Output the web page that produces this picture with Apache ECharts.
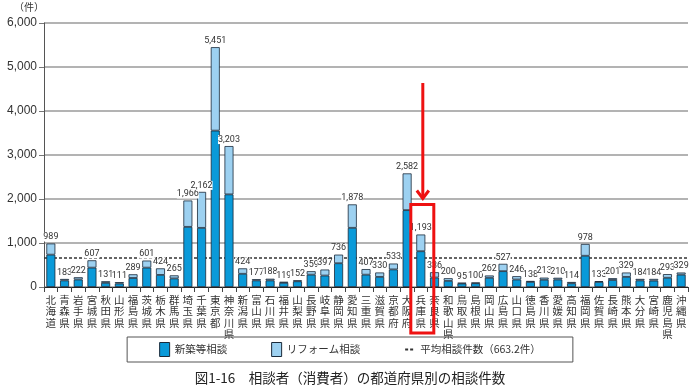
<!DOCTYPE html>
<html><head><meta charset="utf-8">
<script src="https://cdn.jsdelivr.net/npm/echarts@6/dist/echarts.min.js"></script>
<style>html,body{margin:0;padding:0;background:#fff}#c{width:700px;height:390px}</style>
</head><body><div id="c"></div>
<script>
const categories = ['北海道','青森県','岩手県','宮城県','秋田県','山形県','福島県','茨城県','栃木県','群馬県','埼玉県','千葉県','東京都','神奈川県','新潟県','富山県','石川県','福井県','山梨県','長野県','岐阜県','静岡県','愛知県','三重県','滋賀県','京都府','大阪府','兵庫県','奈良県','和歌山県','鳥取県','島根県','岡山県','広島県','山口県','徳島県','香川県','愛媛県','高知県','福岡県','佐賀県','長崎県','熊本県','大分県','宮崎県','鹿児島県','沖縄県'];
const totals = [989,183,222,607,131,111,289,601,424,265,1966,2162,5451,3203,424,177,188,119,152,359,397,736,1878,407,330,533,2582,1193,336,200,95,100,262,527,246,138,213,210,114,978,133,201,329,184,184,293,329];
const shinchiku = [735,150,170,440,95,80,205,440,275,195,1367,1344,3554,2105,300,150,150,95,130,280,260,540,1345,280,230,400,1747,813,215,140,80,85,210,360,170,115,165,170,85,710,115,160,230,150,145,210,280];
const reform = totals.map((t, i) => t - shinchiku[i]);
const average = 663.2;
const yTicks = [0, 1000, 2000, 3000, 4000, 5000, 6000];
const highlight = '兵庫県';

const chart = echarts.init(document.getElementById('c'));
const fmt = v => v.toLocaleString('en-US');
chart.setOption({
  animation: false,
  textStyle: { fontFamily: '"Noto Sans CJK JP", sans-serif' },
  title: {
    text: '図1-16　相談者（消費者）の都道府県別の相談件数',
    left: 'center', top: 366,
    textStyle: { fontSize: 13.5, fontWeight: 'normal', color: '#222', fontFamily: '"Noto Sans CJK JP", sans-serif' }
  },
  legend: {
    left: 'center', top: 337,
    padding: [5, 32, 5, 32],
    borderColor: '#555', borderWidth: 1,
    itemWidth: 10, itemHeight: 14, itemGap: 44,
    textStyle: { fontSize: 10.5, color: '#333' },
    data: [
      { name: '新築等相談', icon: 'rect', itemStyle: { borderColor: '#1a2a3a', borderWidth: 1 } },
      { name: 'リフォーム相談', icon: 'rect', itemStyle: { borderColor: '#1a2a3a', borderWidth: 1 } },
      { name: '平均相談件数（663.2件）', itemStyle: { opacity: 0 } }
    ]
  },
  grid: { left: 44, right: 12, top: 23, bottom: 103 },
  xAxis: {
    type: 'category', data: categories,
    axisLine: { lineStyle: { color: '#222', width: 1 } },
    axisTick: { show: true, length: 5, lineStyle: { color: '#444' } },
    axisLabel: {
      interval: 0, fontSize: 10.5, color: '#333', lineHeight: 11.5, margin: 7,
      formatter: v => v.split('').join('\n'),
      verticalAlign: 'top'
    }
  },
  yAxis: {
    type: 'value', min: 0, max: 6000, interval: 1000,
    name: '（件）', nameLocation: 'end', nameGap: 11,
    nameTextStyle: { fontSize: 10, color: '#333', align: 'right', padding: [0, 0, 0, 0] },
    axisLine: { show: true, lineStyle: { color: '#555' } },
    axisTick: { show: true, length: 5, lineStyle: { color: '#777' } },
    axisLabel: { fontSize: 12, color: '#333', margin: 7, formatter: v => fmt(v), fontFamily: '"Liberation Sans", Arial, sans-serif' },
    splitLine: { lineStyle: { color: '#9a9a9a', width: 1.5 } }
  },
  series: [
    {
      name: '平均相談件数（663.2件）', type: 'line', data: [], symbol: 'none', z: 1,
      lineStyle: { color: '#333', type: [3, 2], width: 1.5 },
      itemStyle: { color: '#333' },
      markLine: {
        silent: true, symbol: 'none', label: { show: false }, z: 1,
        lineStyle: { color: '#333', type: [3, 2], width: 1.5 },
        data: [{ yAxis: average }]
      }
    },
    {
      name: '新築等相談', type: 'bar', stack: 'a', data: shinchiku, barWidth: 9, z: 3,
      itemStyle: { color: '#0a9ad9', borderColor: '#1a2a3a', borderWidth: 0.8 }
    },
    {
      name: 'リフォーム相談', type: 'bar', stack: 'a', data: reform, barWidth: 9, z: 3,
      itemStyle: { color: '#9dd1f1', borderColor: '#1a2a3a', borderWidth: 0.8 },
      label: {
        show: true, position: 'top', distance: 2,
        fontSize: 9, color: '#333', fontFamily: '"Liberation Sans Narrow", Roboto, sans-serif',
        backgroundColor: '#fff', padding: [0, 0, 0, 0],
        formatter: p => fmt(totals[p.dataIndex])
      }
    }
  ]
});

const cx = chart.convertToPixel({ xAxisIndex: 0 }, highlight);
const topY = chart.convertToPixel({ yAxisIndex: 0 }, totals[categories.indexOf(highlight)]);
const baseY = chart.convertToPixel({ yAxisIndex: 0 }, 0);
chart.setOption({
  graphic: [
    { type: 'rect', shape: { x: cx - 10, y: topY - 30, width: 23, height: baseY - topY + 76 },
      style: { fill: 'none', stroke: '#ee1111', lineWidth: 3 }, z: 10 },
    { type: 'line', shape: { x1: cx + 2, y1: 83, x2: cx + 2, y2: topY - 36 },
      style: { stroke: '#ee1111', lineWidth: 3 }, z: 10 },
    { type: 'polyline', shape: { points: [[cx - 4, topY - 44], [cx + 2, topY - 36], [cx + 8, topY - 44]] },
      style: { stroke: '#ee1111', lineWidth: 3, fill: 'none' }, z: 10 }
  ]
});
</script></body></html>
